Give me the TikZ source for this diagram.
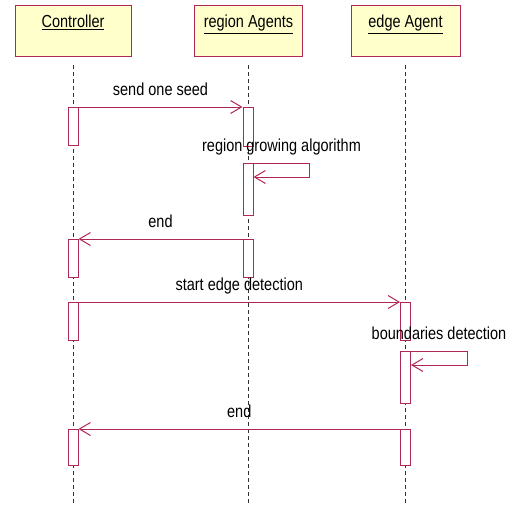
\documentclass[tikz,border=0pt]{standalone}
\usepackage{fontspec}
\setmainfont{Liberation Sans}
\usetikzlibrary{arrows.meta,positioning}
\definecolor{umlRed}{RGB}{176,40,88}
\definecolor{umlYellow}{RGB}{255,255,204}
\definecolor{umlGray}{RGB}{50,50,50}
\newcommand{\umltext}[1]{\scalebox{1}[1.2]{#1}}

\begin{document}
\begin{tikzpicture}[x=1pt,y=-1pt,
  font=\fontsize{14.5}{17}\selectfont,
  obj/.style={draw=umlRed, fill=umlYellow, line width=1pt, anchor=north, inner xsep=0pt, inner ysep=5pt, text height=17pt, text depth=24pt},
  act/.style={draw=umlRed, fill=white, line width=1pt, anchor=north, minimum width=10pt, inner sep=0pt},
  life/.style={umlGray, line width=0.9pt, dash pattern=on 4pt off 3pt},
  msg/.style={umlRed, line width=1pt, -{Straight Barb[length=11pt,width=13pt]}},
  lbl/.style={anchor=base, yshift=12pt, inner sep=0pt, text=black}]
\useasboundingbox (0,0) rectangle (514,504);
\coordinate (bottom) at (0,504);
\node[obj, minimum width=116pt] (ctrl) at (73,5) {\umltext{\underline{Controller}}};
\node[obj, minimum width=108pt] (region) at (248.5,5) {\umltext{\underline{region Agents}}};
\node[obj, minimum width=109pt] (edge) at (405.5,5) {\umltext{\underline{edge Agent}}};
\draw[life] ([yshift=-8pt]ctrl.south) -- (ctrl.south |- bottom);
\draw[life] ([yshift=-8pt]region.south) -- (region.south |- bottom);
\draw[life] ([yshift=-8pt]edge.south) -- (edge.south |- bottom);
\node[act, minimum height=38pt] (c1) at (73,107) {};
\node[act, minimum height=38pt] (c2) at (73,239) {};
\node[act, minimum height=38pt] (c3) at (73,302) {};
\node[act, minimum height=36pt] (c4) at (73,429) {};
\node[act, minimum height=39pt] (r1) at (248,107) {};
\node[act, minimum height=52pt] (r2) at (248,163) {};
\node[act, minimum height=38pt] (r3) at (248,239) {};
\node[act, minimum height=38pt] (e1) at (405.5,302) {};
\node[act, minimum height=52pt] (e2) at (405.5,351) {};
\node[act, minimum height=36pt] (e3) at (405.5,429) {};
\draw[msg] (c1.north east) -- node[lbl] {\umltext{send one seed}} (r1.north west);
\draw[msg] (r2.north east) -- node[lbl] {\umltext{region growing algorithm}} ++(56,0) -- ++(0,14) -- ([yshift=-14pt]r2.north east);
\draw[msg] (r3.north west) -- node[lbl] {\umltext{end}} (c2.north east);
\draw[msg] (c3.north east) -- node[lbl] {\umltext{start edge detection}} (e1.north west);
\draw[msg] (e2.north east) -- node[lbl] {\umltext{boundaries detection}} ++(56,0) -- ++(0,14) -- ([yshift=-14pt]e2.north east);
\draw[msg] (e3.north west) -- node[lbl] {\umltext{end}} (c4.north east);
\end{tikzpicture}
\end{document}
